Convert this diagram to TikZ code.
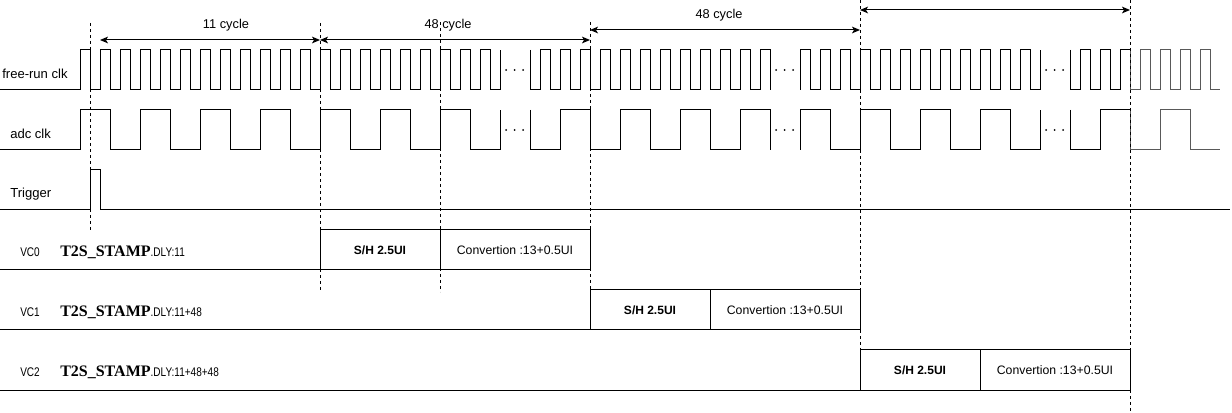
\documentclass[tikz,border=0pt]{standalone}
\usepackage{fontspec}
\setmainfont{Liberation Sans}
\newfontfamily\stampfont{Liberation Serif}
\newfontfamily\narrowfont[FakeStretch=0.8]{Liberation Sans}
\usetikzlibrary{arrows.meta,positioning}

\tikzstyle{wave} = [line width=0.75pt]
\tikzstyle{tail} = [wave, draw=black!65]
\tikzstyle{guide} = [line width=0.6pt, dash pattern=on 2.5pt off 2pt]
\tikzstyle{span} = [line width=0.75pt, {Stealth[length=6pt,width=5pt,inset=1.5pt]}-{Stealth[length=6pt,width=5pt,inset=1.5pt]}]
\tikzstyle{signame} = [anchor=base west, inner sep=0pt, font=\fontsize{9.8}{11}\selectfont]
\tikzstyle{rowname} = [anchor=base west, inner sep=0pt, font=\narrowfont\fontsize{9.4}{11}\selectfont]
\tikzstyle{cyclbl} = [anchor=base, inner sep=0pt, font=\fontsize{9.6}{11}\selectfont]
\tikzstyle{shbox} = [draw, line width=0.75pt, anchor=south west, minimum width=90pt, minimum height=30pt, inner sep=0pt, outer sep=0pt, font=\fontsize{9}{11}\selectfont\bfseries]
\tikzstyle{convbox} = [shbox, minimum width=112.5pt, font=\fontsize{9.2}{11}\selectfont]

\begin{document}
\begin{tikzpicture}[x=0.75pt, y=-0.75pt]
\useasboundingbox (0,0) rectangle (1232,413);

% signal names
\node (frclk) [signame] at (2,79) {free-run clk};
\node (adcclk) [signame] at (10,139) {adc clk};
\node (trig) [signame] at (10,198) {Trigger};

% free-run clk
\draw [wave] (0,90) -- (80,90) \foreach \r in {80,100,...,480} { -- (\r,50) -- (\r+10,50) -- (\r+10,90) -- (\r+20,90) } -- (500,50);
\draw [wave] (530,50) -- (530,90) -- (540,90) \foreach \r in {540,560,...,740} { -- (\r,50) -- (\r+10,50) -- (\r+10,90) -- (\r+20,90) } -- (760,50) -- (770,50) -- (770,90);
\draw [wave] (800,90) \foreach \r in {800,820,...,1020} { -- (\r,50) -- (\r+10,50) -- (\r+10,90) -- (\r+20,90) } -- (1040,50);
\draw [wave] (1070,50) -- (1070,90) -- (1080,90) \foreach \r in {1080,1100} { -- (\r,50) -- (\r+10,50) -- (\r+10,90) -- (\r+20,90) } -- (1120,50) -- (1130,50);
\draw [tail] (1130,50) -- (1130,90) -- (1140,90) \foreach \r in {1140,1160,...,1200} { -- (\r,50) -- (\r+10,50) -- (\r+10,90) -- (\r+20,90) };

% adc clk
\draw [wave] (0,150) -- (80,150) \foreach \r in {80,140,...,440} { -- (\r,110) -- (\r+30,110) -- (\r+30,150) -- (\r+60,150) } -- (500,110);
\draw [wave] (530,110) -- (530,150) -- (560,150) \foreach \r in {560,620,680} { -- (\r,110) -- (\r+30,110) -- (\r+30,150) -- (\r+60,150) } -- (740,110) -- (770,110) -- (770,150);
\draw [wave] (800,150) \foreach \r in {800,860,920,980} { -- (\r,110) -- (\r+30,110) -- (\r+30,150) -- (\r+60,150) } -- (1040,110);
\draw [wave] (1070,110) -- (1070,150) -- (1100,150) -- (1100,110) -- (1130,110);
\draw [tail] (1130,110) -- (1130,150) -- (1160,150) -- (1160,110) -- (1190,110) -- (1190,150) -- (1220,150);

% trigger
\draw [wave] (0,210) -- (90,210) -- (90,170) -- (100,170) -- (100,210) -- (1230,210);

% dots in the gaps
\foreach \g in {500,770,1040}
  \foreach \d in {6,14.5,23} { \fill (\g+\d,70) circle (0.75pt) (\g+\d,130) circle (0.75pt); }

% guides
\foreach \x/\ya/\yb in {90/23/232, 320/23/292, 440/22/292, 590/22/290, 860/0/350, 1130/0/413}
  \draw [guide] (\x,\ya) -- (\x,\yb);

% cycle spans
\coordinate (s0) at (100,40);
\coordinate (s1) at (320,40);
\coordinate (s2) at (590,40);
\coordinate (s3) at (590,30);
\coordinate (s4) at (860,30);
\coordinate (s5) at (860,10);
\coordinate (s6) at (1130,10);
\draw [span] (s0) -- (s1);
\draw [span] (s1) -- (s2);
\draw [span] (s3) -- (s4);
\draw [span] (s5) -- (s6);
\node (cyc11) [cyclbl] at (226,29) {11 cycle};
\node (cyc48a) [cyclbl] at (448,29) {48 cycle};
\node (cyc48b) [cyclbl] at (719,19) {48 cycle};

% vc rows
\node (vc0) [rowname] at (20,257) {VC0};
\node (vc1) [rowname] at (20,317) {VC1};
\node (vc2) [rowname] at (20,377) {VC2};
\node (dly0) [signame] at (60,257) {{\stampfont\bfseries\fontsize{12}{14}\selectfont T2S\_STAMP}{\narrowfont\fontsize{9.4}{10}\selectfont .DLY:11}};
\node (dly1) [signame] at (60,317) {{\stampfont\bfseries\fontsize{12}{14}\selectfont T2S\_STAMP}{\narrowfont\fontsize{9.4}{10}\selectfont .DLY:11+48}};
\node (dly2) [signame] at (60,377) {{\stampfont\bfseries\fontsize{12}{14}\selectfont T2S\_STAMP}{\narrowfont\fontsize{9.4}{10}\selectfont .DLY:11+48+48}};

\node (sh0) [shbox] at (320,270) {S/H 2.5UI};
\node (cv0) [convbox, right=0pt of sh0] {Convertion :13+0.5UI};
\node (sh1) [shbox] at (590,330) {S/H 2.5UI};
\node (cv1) [convbox, right=0pt of sh1] {Convertion :13+0.5UI};
\node (sh2) [shbox] at (860,390) {S/H 2.5UI};
\node (cv2) [convbox, right=0pt of sh2] {Convertion :13+0.5UI};
\draw [wave] (0,270) -- (sh0.south west);
\draw [wave] (0,330) -- (sh1.south west);
\draw [wave] (0,390) -- (sh2.south west);
\end{tikzpicture}
\end{document}
